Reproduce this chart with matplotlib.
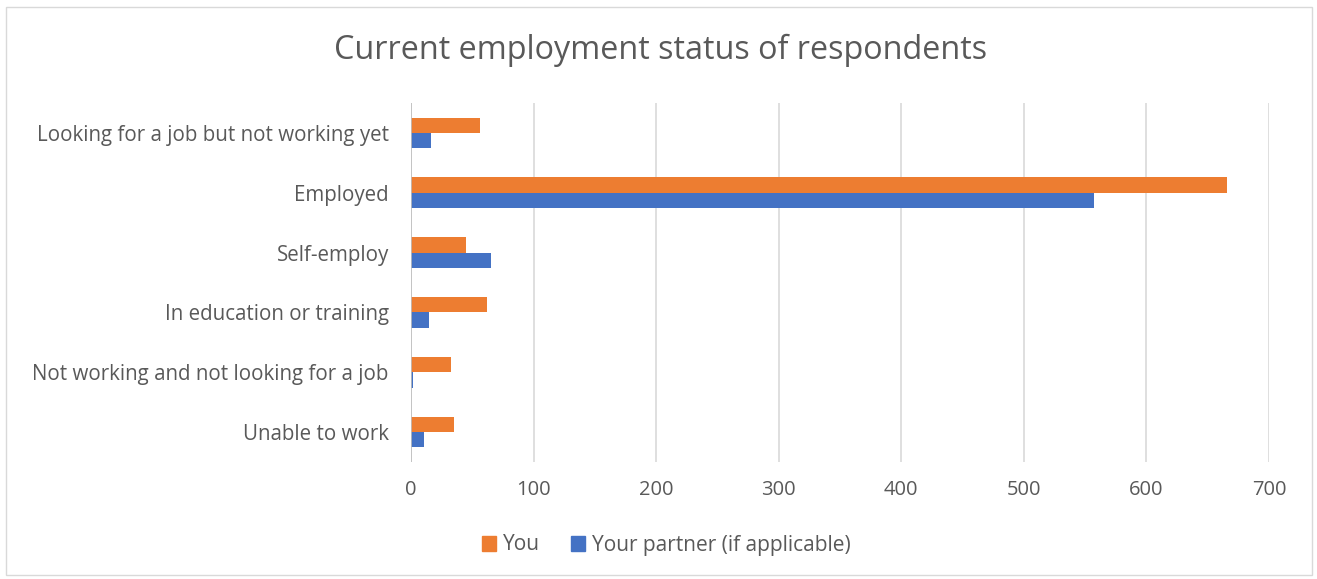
import matplotlib
matplotlib.use("Agg")
import matplotlib.pyplot as plt
import numpy as np
from matplotlib.patches import Rectangle, Patch

categories = ["Looking for a job but not working yet", "Employed", "Self-employ",
              "In education or training", "Not working and not looking for a job",
              "Unable to work"]
you = [56, 666, 45, 62, 33, 35]
partner = [16, 557, 65, 15, 2, 11]
series_names = ["You", "Your partner (if applicable)"]
xticks = [0, 100, 200, 300, 400, 500, 600, 700]

orange = "#ED7D31"
blue = "#4472C4"
txt = "#595959"

plt.rcParams['font.family'] = ['Open Sans', 'DejaVu Sans']

fig = plt.figure(figsize=(13.17, 5.79), dpi=100)
fig.patches.append(Rectangle((6/1317, 4/579), 1306/1317, 568/579, transform=fig.transFigure,
                             fill=False, edgecolor="#D9D9D9", linewidth=1))
ax = fig.add_axes([411/1317, 1 - 462/579, (1269 - 411)/1317, (462 - 103)/579])

y = np.arange(len(categories))
h = 0.255
ax.barh(y - h/2, you, height=h, color=orange, label=series_names[0], zorder=3)
ax.barh(y + h/2, partner, height=h, color=blue, label=series_names[1], zorder=3)

ax.set_ylim(len(categories) - 0.5, -0.5)
ax.set_xlim(0, 700)
ax.set_xticks(xticks)
ax.set_xticklabels([str(t) for t in xticks])
ax.set_yticks(y)
ax.set_yticklabels(categories)
ax.tick_params(axis='both', length=0, colors=txt)
ax.tick_params(axis='x', pad=13, labelsize=14.5)
ax.tick_params(axis='y', pad=16, labelsize=14.8)
for s in ax.spines.values():
    s.set_visible(False)
ax.grid(axis='x', color="#D9D9D9", linewidth=1.2, zorder=0)
ax.axvline(0, color="#BFBFBF", linewidth=1.2, zorder=4)

fig.text(661/1317, 1 - 50/579, "Current employment status of respondents",
         ha='center', va='center', fontsize=23.3, color=txt)

handles = [Patch(color=orange), Patch(color=blue)]
fig.legend(handles, series_names, loc='center', bbox_to_anchor=(666/1317, 1 - 545/579),
           ncol=2, frameon=False, fontsize=15, labelcolor=txt,
           handlelength=0.7, handleheight=0.7, handletextpad=0.3, columnspacing=1.5)

fig.savefig("out.png", dpi=100, facecolor="white")
